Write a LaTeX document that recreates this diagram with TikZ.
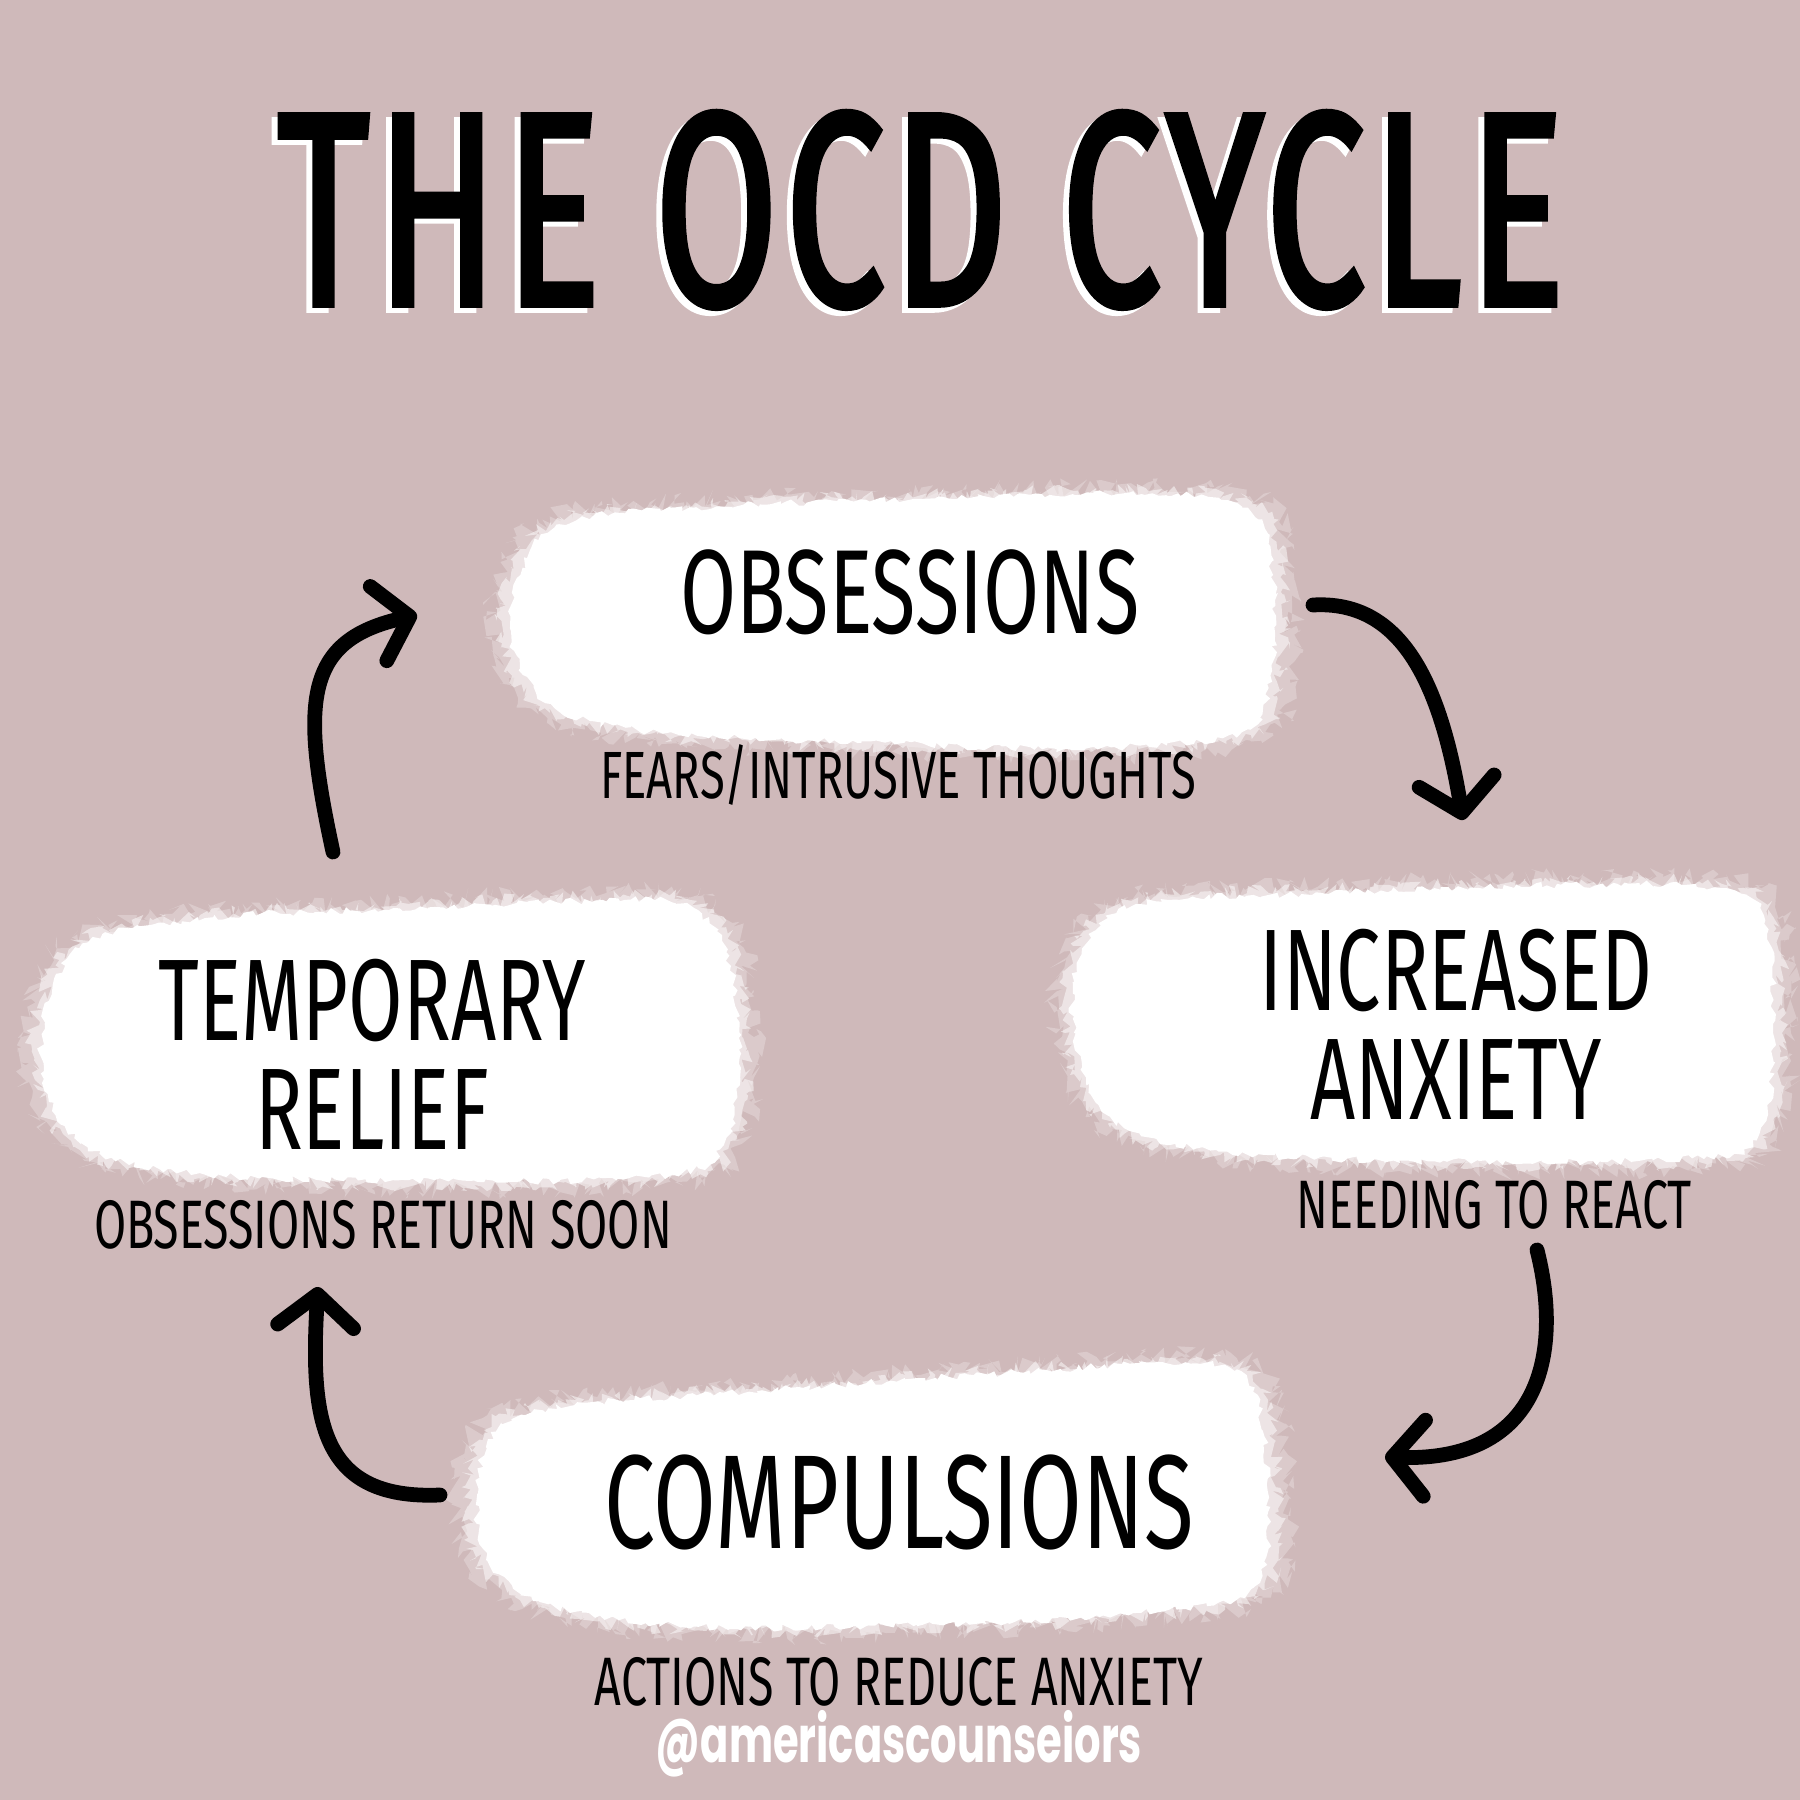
\documentclass[tikz,border=0pt]{standalone}
\usepackage{fontspec}
\usetikzlibrary{arrows.meta,decorations.pathmorphing}
\newfontfamily\handfont[FakeStretch=0.68]{Fira Sans}
\newfontfamily\titlefont[FakeStretch=0.64,LetterSpace=3,FakeBold=2]{Fira Sans}
\newfontfamily\tagfont[FakeStretch=0.64]{Poppins}
\definecolor{bgpink}{HTML}{CFB9BA}
\tikzset{
  bigtxt/.style={font=\handfont\fontsize{34}{31}\selectfont, text=black, inner sep=0pt, align=center},
  subtxt/.style={font=\handfont\fontsize{19.5}{20}\selectfont, text=black, inner sep=0pt},
  titletxt/.style={font=\titlefont\fontsize{78.5}{80}\selectfont, inner sep=0pt, anchor=base},
  cyclearrow/.style={line width=4.2pt, line cap=round, line join=round, -{Straight Barb[length=0.32cm,width=0.76cm,round]}},
  brushfaint/.style={fill=white, fill opacity=0.25, decorate, decoration={random steps, segment length=1pt, amplitude=3pt}},
  brushsoft/.style={fill=white, fill opacity=0.5, decorate, decoration={random steps, segment length=1pt, amplitude=2pt}},
  brushcore/.style={fill=white, decorate, decoration={random steps, segment length=1.5pt, amplitude=1pt}},
}
\newcommand\brushblob[2]{%
  \fill[brushfaint, scale around={1.025:#1}] plot[smooth cycle, tension=0.6] coordinates {#2};
  \fill[brushsoft, scale around={1.0:#1}] plot[smooth cycle, tension=0.6] coordinates {#2};
  \fill[brushcore, scale around={0.975:#1}] plot[smooth cycle, tension=0.6] coordinates {#2};
}
\begin{document}
\begin{tikzpicture}[x=0.01cm,y=-0.01cm]
\pgfmathsetseed{42}
\useasboundingbox (0,0) rectangle (1800,1800);
\fill[bgpink] (0,0) rectangle (1800,1800);

% blobs
\brushblob{(892,612)}{(511,574) (551,522) (689,505) (918,496) (1148,491) (1257,505) (1283,574) (1280,677) (1251,735) (1091,752) (861,746) (643,735) (540,706) (502,643)}
\brushblob{(1420,1016)}{(1073,953) (1131,901) (1320,890) (1550,882) (1722,884) (1774,918) (1782,1033) (1768,1137) (1699,1162) (1435,1165) (1205,1154) (1102,1119) (1065,1033)}
\brushblob{(390,1040)}{(40,1000) (80,940) (200,915) (400,905) (600,897) (690,900) (735,950) (748,1050) (735,1140) (680,1178) (450,1185) (200,1178) (80,1150) (35,1080)}
\brushblob{(872,1495)}{(476,1446) (540,1406) (746,1389) (976,1372) (1205,1360) (1263,1389) (1278,1492) (1263,1590) (1148,1616) (918,1628) (689,1630) (540,1607) (473,1550)}

% title
\node[titletxt, text=white] (titleshadow) at (915,310) {THE OCD CYCLE};
\node[titletxt, text=black] (title) at (921,305) {THE OCD CYCLE};

% main labels
\node[bigtxt, anchor=base] (obs) at (910,633) {OBSESSIONS};
\node[subtxt, font=\handfont\fontsize{19}{20}\selectfont, anchor=base] (obssub) at (898,798) {FEARS/INTRUSIVE THOUGHTS};
\node[bigtxt, font=\handfont\fontsize{33}{31}\selectfont] (anx) at (1456,1024) {INCREASED\\ANXIETY};
\node[subtxt, anchor=base] (anxsub) at (1494,1228) {NEEDING TO REACT};
\node[bigtxt, font=\handfont\fontsize{38}{40}\selectfont, anchor=base] (comp) at (899,1548) {COMPULSIONS};
\node[subtxt, anchor=base] (compsub) at (899,1705) {ACTIONS TO REDUCE ANXIETY};
\node[bigtxt, font=\handfont\fontsize{33}{31}\selectfont] (rel) at (372,1054) {TEMPORARY\\RELIEF};
\node[subtxt, anchor=base] (relsub) at (383,1248) {OBSESSIONS RETURN SOON};
\node[font=\tagfont\bfseries\fontsize{18.5}{19}\selectfont, text=white, inner sep=0pt] (tag) at (899,1744) {@americascounseiors};

% arrow end points
\coordinate (a1s) at (1313,605);
\coordinate (a1e) at (1463,820);
\coordinate (a2s) at (1537,1250);
\coordinate (a2e) at (1385,1457);
\coordinate (a3s) at (440,1495);
\coordinate (a3e) at (318,1287);
\coordinate (a4s) at (333,852);
\coordinate (a4e) at (417,615);

\draw[cyclearrow] (a1s) .. controls (1400,600) and (1440,680) .. (a1e);
\draw[cyclearrow] (a2s) .. controls (1560,1340) and (1550,1462) .. (a2e);
\draw[cyclearrow] (a3s) .. controls (320,1500) and (310,1420) .. (a3e);
\draw[cyclearrow] (a4s) .. controls (300,700) and (305,640) .. (a4e);
\end{tikzpicture}
\end{document}
